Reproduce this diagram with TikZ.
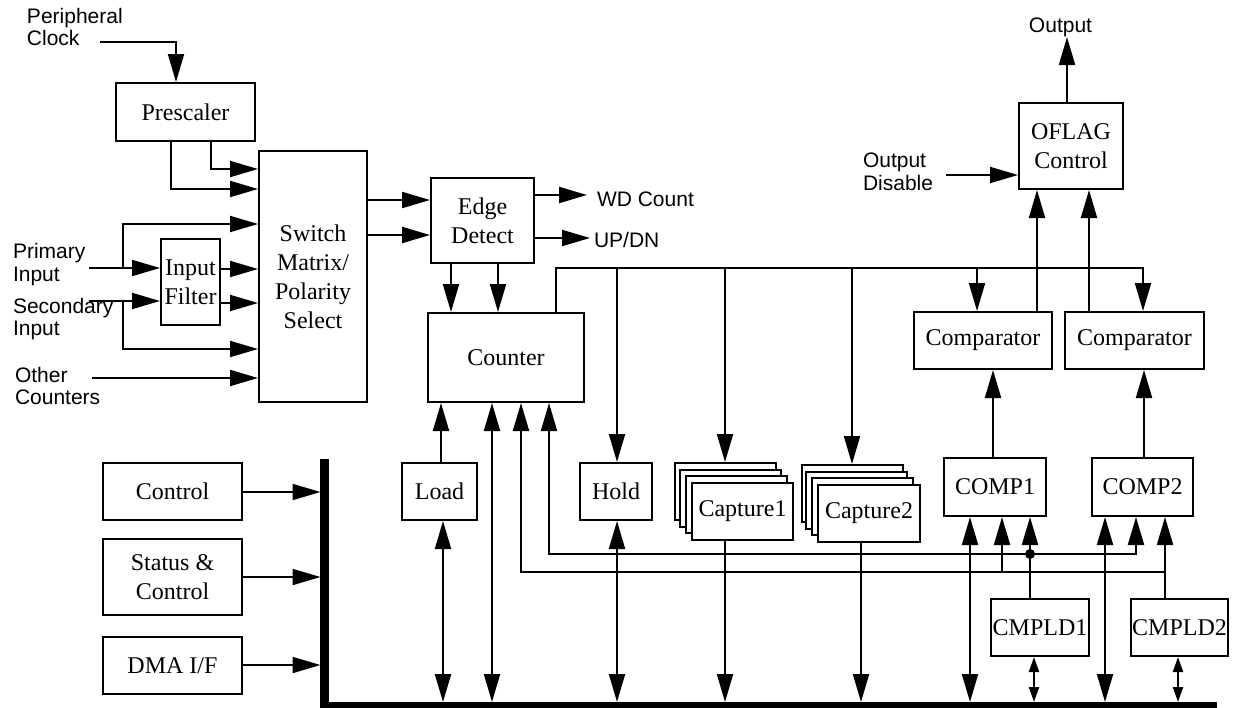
\documentclass[tikz,border=0pt]{standalone}
\usepackage{fontspec}
\setmainfont{Liberation Serif}
\newfontfamily\lblfamily{Liberation Sans}
\usetikzlibrary{arrows.meta}
\newcommand\bxf{\fontsize{24}{29}\selectfont}
\newcommand\lbf{\lblfamily\fontsize{21}{22.5}\selectfont}
\begin{document}
\begin{tikzpicture}[x=1pt,y=-1pt,line width=2pt,
  box/.style={draw,line width=2pt,inner sep=0pt,font=\bxf,align=center,fill=white},
  lbl/.style={font=\lbf,align=left,inner sep=0pt},
  arr/.style={-{Triangle[length=28pt,width=16pt]}},
  darr/.style={{Triangle[length=28pt,width=16pt]}-{Triangle[length=28pt,width=16pt]}},
  sdarr/.style={{Triangle[length=15pt,width=10pt]}-{Triangle[length=15pt,width=10pt]}},
  bus/.style={line width=8.5pt}]
\useasboundingbox (0,0) rectangle (1236,707);

% ---------- boxes ----------
\node[box,minimum width=139pt,minimum height=58pt] (prescaler) at (185.5,112) {Prescaler};
\node[box,minimum width=108pt,minimum height=251pt] (switch) at (313,276.5) {Switch\\Matrix/\\Polarity\\Select};
\node[box,minimum width=59pt,minimum height=86pt] (filter) at (190.5,282) {Input\\Filter};
\node[box,minimum width=103pt,minimum height=85pt] (edge) at (482.5,220.5) {Edge\\Detect};
\node[box,minimum width=156pt,minimum height=89pt] (counter) at (506,357.5) {Counter};
\node[box,minimum width=104pt,minimum height=86pt] (oflag) at (1071,146) {OFLAG\\Control};
\node[box,minimum width=138pt,minimum height=57pt] (cmpA) at (983,340.5) {Comparator};
\node[box,minimum width=139pt,minimum height=57pt] (cmpB) at (1134.5,340.5) {Comparator};
\node[box,minimum width=75pt,minimum height=57pt] (load) at (439.5,491.5) {Load};
\node[box,minimum width=72pt,minimum height=57pt] (hold) at (616,491.5) {Hold};
% capture stacks
\node[box,minimum width=101pt,minimum height=57pt] (c1a) at (725.5,491.5) {};
\node[box,minimum width=101pt,minimum height=57pt] (c1b) at (730,498) {};
\node[box,minimum width=101pt,minimum height=57pt] (c1c) at (736,504.5) {};
\node[box,minimum width=101pt,minimum height=57pt] (c1) at (742.5,511.5) {Capture1};
\node[box,minimum width=101pt,minimum height=57pt] (c2a) at (852.5,493.5) {};
\node[box,minimum width=101pt,minimum height=57pt] (c2b) at (856,500) {};
\node[box,minimum width=101pt,minimum height=57pt] (c2c) at (862.5,506.5) {};
\node[box,minimum width=101.5pt,minimum height=57pt] (c2) at (869,513) {Capture2};
\node[box,minimum width=102pt,minimum height=58pt] (comp1) at (995,487) {COMP1};
\node[box,minimum width=101pt,minimum height=58pt] (comp2) at (1142.5,487) {COMP2};
\node[box,minimum width=98pt,minimum height=57pt] (cmpld1) at (1040,627.5) {CMPLD1};
\node[box,minimum width=97pt,minimum height=57pt] (cmpld2) at (1179.5,627.5) {CMPLD2};
\node[box,minimum width=139pt,minimum height=57pt] (control) at (172.5,491.5) {Control};
\node[box,minimum width=139pt,minimum height=76pt] (status) at (172.5,577) {Status \&\\Control};
\node[box,minimum width=139pt,minimum height=57pt] (dma) at (172.5,665.5) {DMA I/F};

% ---------- labels ----------
\node[lbl,anchor=west] (lpclk) at (26,27) {Peripheral\\Clock};
\node[lbl,anchor=west] (lprim) at (12,264.5) {Primary\\Input};
\node[lbl,anchor=west] (lsec) at (12,319) {Secondary\\Input};
\node[lbl,anchor=west] (loth) at (14,386) {Other\\Counters};
\node[lbl,anchor=west] (lodis) at (862,172) {Output\\Disable};
\node[lbl] (lout) at (1060.5,27.5) {Output};
\node[lbl,anchor=west] (lwd) at (596,199) {WD Count};
\node[lbl,anchor=west] (lud) at (593,239.5) {UP/DN};

% ---------- free ends ----------
\coordinate (pclk) at (100,42);
\coordinate (prim) at (89,268);
\coordinate (sec) at (89,301);
\coordinate (pj) at (123,268);
\coordinate (sj) at (123,301);
\coordinate (oth) at (92,378);
\coordinate (odis) at (946,175);
\coordinate (outp) at (1067,37);
\coordinate (wd) at (587,195);
\coordinate (ud) at (590,238);
\coordinate (bt) at (0,702);
\coordinate (bl) at (320.5,0);
\coordinate (busT) at (324.5,459);
\coordinate (busC) at (324.5,706);
\coordinate (busR) at (1217,706);
\coordinate (dot) at (1030,554);

% ---------- bus ----------
\draw[bus] (busT) -- (busC) -- (busR);

% ---------- left input side ----------
\draw[arr] (pclk) -| (prescaler.north -| 176,0);
\draw[arr] (prescaler.south -| 211,0) |- (switch.west |- 0,169);
\draw[arr] (prescaler.south -| 171,0) |- (switch.west |- 0,189);
\draw[arr] (prim) -- (filter.west |- prim);
\draw[arr] (pj) |- (switch.west |- 0,224);
\draw[arr] (sec) -- (filter.west |- sec);
\draw[arr] (sj) |- (switch.west |- 0,349);
\draw[arr] (filter.east |- 0,269) -- (switch.west |- 0,269);
\draw[arr] (filter.east |- 0,303) -- (switch.west |- 0,303);
\draw[arr] (oth) -- (switch.west |- oth);

% ---------- switch / edge / counter ----------
\draw[arr] (switch.east |- 0,200) -- (edge.west |- 0,200);
\draw[arr] (switch.east |- 0,235) -- (edge.west |- 0,235);
\draw[arr] (edge.east |- wd) -- (wd);
\draw[arr] (edge.east |- ud) -- (ud);
\draw[arr] (edge.south -| 451,0) -- (counter.north -| 451,0);
\draw[arr] (edge.south -| 498,0) -- (counter.north -| 498,0);

% ---------- distribution line ----------
\draw[arr] (counter.north -| 556,0) |- (1143,268) -- (cmpB.north -| 1143,0);
\draw[arr] (617,268) -- (hold.north -| 617,0);
\draw[arr] (725,268) -- (c1a.north -| 725,0);
\draw[arr] (852,268) -- (c2a.north -| 852,0);
\draw[arr] (977,268) -- (cmpA.north -| 977,0);

% ---------- OFLAG ----------
\draw[arr] (cmpA.north -| 1037,0) -- (oflag.south -| 1037,0);
\draw[arr] (cmpB.north -| 1089,0) -- (oflag.south -| 1089,0);
\draw[arr] (oflag.north -| outp) -- (outp);
\draw[arr] (odis) -- (oflag.west |- odis);

% ---------- comparators ----------
\draw[arr] (comp1.north -| 993,0) -- (cmpA.south -| 993,0);
\draw[arr] (comp2.north -| 1144,0) -- (cmpB.south -| 1144,0);

% ---------- counter bottom ----------
\draw[arr] (load.north -| 441,0) -- (counter.south -| 441,0);
\draw[darr] (counter.south -| 492,0) -- (492,0 |- bt);
\draw[darr] (counter.south -| 521,0) |- (1165,572) -- (comp2.south -| 1165,0);
\draw[darr] (counter.south -| 549,0) |- (1136,554) -- (comp2.south -| 1136,0);
\draw[arr] (1002,572) -- (comp1.south -| 1002,0);
\draw[arr] (cmpld1.north -| 1030,0) -- (comp1.south -| 1030,0);
\fill (dot) circle[radius=5pt];
\draw (cmpld2.north -| 1165,0) -- (1165,572);

% ---------- to bus ----------
\draw[darr] (load.south -| 443,0) -- (443,0 |- bt);
\draw[darr] (hold.south -| 617,0) -- (617,0 |- bt);
\draw[arr] (c1.south -| 725,0) -- (725,0 |- bt);
\draw[arr] (c2.south -| 861,0) -- (861,0 |- bt);
\draw[darr] (comp1.south -| 970,0) -- (970,0 |- bt);
\draw[darr] (comp2.south -| 1105,0) -- (1105,0 |- bt);
\draw[sdarr] (cmpld1.south -| 1034,0) -- (1034,0 |- bt);
\draw[sdarr] (cmpld2.south -| 1178,0) -- (1178,0 |- bt);

% ---------- left boxes to bus ----------
\draw[arr] (control.east |- 0,492) -- (bl |- 0,492);
\draw[arr] (status.east) -- (status.east -| bl);
\draw[arr] (dma.east |- 0,665) -- (bl |- 0,665);
\end{tikzpicture}
\end{document}
